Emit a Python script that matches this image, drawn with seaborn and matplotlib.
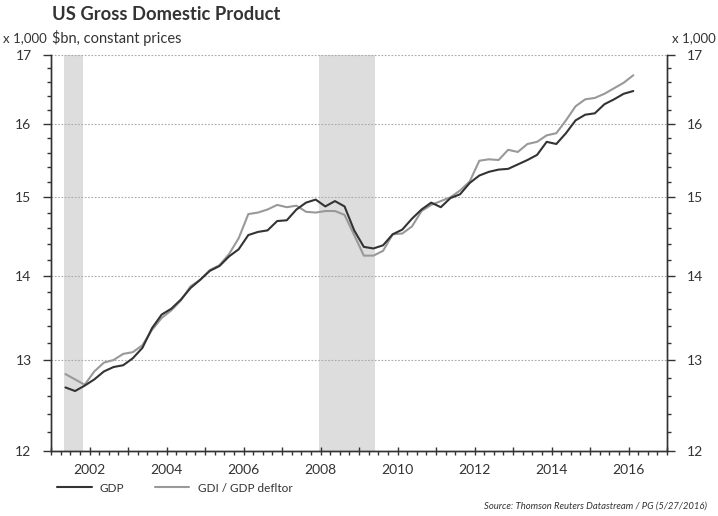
import matplotlib
matplotlib.use("Agg")
import matplotlib.pyplot as plt
import numpy as np
import pandas as pd
import seaborn as sns
from matplotlib import ticker
from matplotlib.lines import Line2D

# quarterly values, 2001Q2 .. 2016Q1, $bn x 1,000
quarters = pd.period_range("2001Q2", "2016Q1", freq="Q")
gdp = [
    12.69, 12.65, 12.71,
    12.78, 12.87, 12.92, 12.94,
    13.02, 13.14, 13.37, 13.53,
    13.60, 13.71, 13.85, 13.95,
    14.06, 14.12, 14.24, 14.33,
    14.51, 14.55, 14.57, 14.69,
    14.70, 14.84, 14.93, 14.97,
    14.88, 14.95, 14.88, 14.57,
    14.36, 14.34, 14.38, 14.52,
    14.58, 14.72, 14.84, 14.93,
    14.87, 14.99, 15.04, 15.19,
    15.29, 15.34, 15.37, 15.38,
    15.44, 15.50, 15.57, 15.75,
    15.72, 15.87, 16.05, 16.13,
    16.15, 16.28, 16.35, 16.43,
    16.47,
]
gdi = [
    12.84, 12.78, 12.72,
    12.87, 12.97, 13.00, 13.07,
    13.09, 13.17, 13.35, 13.49,
    13.58, 13.70, 13.87, 13.95,
    14.07, 14.13, 14.27, 14.47,
    14.78, 14.80, 14.84, 14.90,
    14.87, 14.89, 14.81, 14.80,
    14.82, 14.82, 14.77, 14.51,
    14.25, 14.25, 14.31, 14.52,
    14.53, 14.62, 14.82, 14.90,
    14.95, 15.00, 15.09, 15.21,
    15.49, 15.51, 15.50, 15.64,
    15.61, 15.72, 15.75, 15.84,
    15.87, 16.05, 16.25, 16.35,
    16.37, 16.43, 16.51, 16.59,
    16.70,
]
recessions = [(2001.33, 2001.83), (2007.95, 2009.42)]
y_ticks = [12, 13, 14, 15, 16, 17]
year_ticks = list(range(2001, 2018))

series_names = ["GDP", "GDI / GDP defltor"]
colors = {"GDP": "#333333", "GDI / GDP defltor": "#999999"}

decimal_year = quarters.year + (quarters.quarter - 1) / 4 + 0.125
df = pd.DataFrame({"date": decimal_year, series_names[0]: gdp, series_names[1]: gdi})
long = df.melt("date", var_name="series", value_name="value")

sns.set_style("ticks")
plt.rcParams["font.family"] = ["Lato", "DejaVu Sans"]
plt.rcParams["text.color"] = "#333333"

fig = plt.figure(figsize=(7.18, 5.16), dpi=100)
ax = fig.add_axes([51 / 718, 1 - 451 / 516, 616 / 718, 396 / 516])

for start, end in recessions:
    ax.axvspan(start, end, color="#dddddd", lw=0, zorder=0)

sns.lineplot(
    data=long, x="date", y="value", hue="series",
    hue_order=series_names[::-1], palette=colors,
    linewidth=1.5, ax=ax, legend=False,
)

minor_y = [v for v in np.arange(12, 17.01, 0.2) if abs(v - round(v)) > 0.01]


def style_y(a):
    a.set_yscale("log")
    a.set_ylim(12, 17)
    a.yaxis.set_major_locator(ticker.FixedLocator(y_ticks))
    a.yaxis.set_major_formatter(ticker.FixedFormatter([str(t) for t in y_ticks]))
    a.yaxis.set_minor_locator(ticker.FixedLocator(minor_y))
    a.yaxis.set_minor_formatter(ticker.NullFormatter())
    a.tick_params(axis="y", which="major", length=6, width=1, color="#333333",
                  labelsize=10, labelcolor="#333333", pad=8)
    a.tick_params(axis="y", which="minor", length=3, width=1, color="#333333")
    a.set_ylabel("")


style_y(ax)
ax.set_xlim(2001, 2017)
ax.set_xlabel("")
ax.xaxis.set_major_locator(ticker.FixedLocator(year_ticks))
ax.xaxis.set_major_formatter(
    ticker.FuncFormatter(lambda v, p: f"{int(v)}" if int(v) % 2 == 0 else "")
)
ax.xaxis.set_minor_locator(ticker.MultipleLocator(0.25))
ax.tick_params(axis="x", which="major", length=6, direction="inout", width=1,
               color="#333333", labelsize=10, labelcolor="#333333", pad=6)
ax.tick_params(axis="x", which="minor", length=3, direction="out", width=1,
               color="#333333")
ax.yaxis.grid(True, which="major", linestyle=(0, (1.5, 1.5)), color="#aaaaaa",
              linewidth=0.8)
for gl in ax.get_ygridlines():
    gl.set_clip_on(False)

ax2 = ax.twinx()
style_y(ax2)
for a in (ax, ax2):
    a.spines["top"].set_visible(False)
    for s in ("left", "right", "bottom"):
        a.spines[s].set_color("#333333")
        a.spines[s].set_linewidth(1)

fig.text(52 / 718, 1 - 14 / 516, "US Gross Domestic Product", fontsize=13.2,
         fontweight="bold", va="center", ha="left")
fig.text(52 / 718, 1 - 38 / 516, "$bn, constant prices", fontsize=10.5,
         va="center", ha="left")
fig.text(3 / 718, 1 - 38 / 516, "x 1,000", fontsize=9.5, va="center", ha="left")
fig.text(716 / 718, 1 - 38 / 516, "x 1,000", fontsize=9.5, va="center", ha="right")

handles = [Line2D([], [], color=colors[n], linewidth=1.5) for n in series_names]
fig.legend(handles, series_names, loc="center left",
           bbox_to_anchor=(55 / 718, 1 - 488 / 516), ncol=2, frameon=False,
           fontsize=8.5, handlelength=2.9, handletextpad=0.7, columnspacing=2.6,
           borderpad=0.2, borderaxespad=0)

fig.text(707 / 718, 1 - 506 / 516,
         "Source: Thomson Reuters Datastream / PG (5/27/2016)",
         fontsize=6.8, style="italic", ha="right", va="center")

fig.savefig("out.png", dpi=100)
